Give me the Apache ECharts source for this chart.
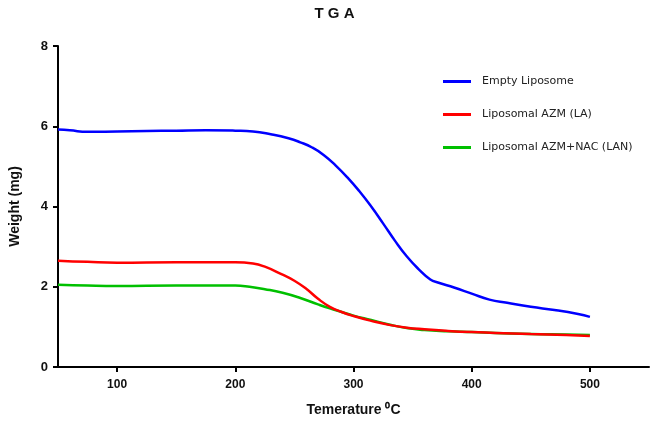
<!DOCTYPE html>
<html>
<head>
<meta charset="utf-8">
<script src="https://cdn.jsdelivr.net/npm/echarts@6/dist/echarts.min.js"></script>
<style>html,body{margin:0;padding:0;background:#fff}#c{width:669px;height:436px}</style>
</head>
<body>
<div id="c"></div>
<script>
const seriesNames = ['Empty Liposome', 'Liposomal AZM (LA)', 'Liposomal AZM+NAC (LAN)'];
const xTicks = [100, 200, 300, 400, 500];
const yTicks = [0, 2, 4, 6, 8];
const emptyLiposome = [[50,5.92],[60,5.9],[75,5.86],[100,5.87],[125,5.88],[150,5.89],[175,5.9],[200,5.89],[215,5.87],[230,5.8],[245,5.7],[255,5.6],[265,5.47],[275,5.28],[285,5.02],[295,4.72],[305,4.38],[315,4.0],[325,3.58],[335,3.15],[345,2.76],[355,2.44],[365,2.18],[372,2.1],[385,1.98],[400,1.83],[415,1.68],[430,1.6],[450,1.5],[470,1.42],[490,1.32],[500,1.25]];
const liposomalLA = [[50,2.65],[75,2.62],[100,2.6],[150,2.61],[200,2.61],[215,2.58],[225,2.5],[240,2.3],[250,2.15],[260,1.95],[270,1.7],[280,1.5],[290,1.37],[300,1.27],[315,1.15],[330,1.05],[345,0.98],[360,0.94],[380,0.9],[400,0.87],[420,0.85],[450,0.82],[480,0.8],[500,0.77]];
const liposomalLAN = [[50,2.05],[75,2.03],[100,2.02],[150,2.03],[200,2.03],[212,2.0],[225,1.94],[240,1.85],[255,1.72],[270,1.56],[280,1.46],[290,1.37],[300,1.28],[315,1.17],[330,1.06],[345,0.97],[360,0.92],[380,0.89],[400,0.87],[420,0.85],[450,0.82],[480,0.81],[500,0.8]];

const chart = echarts.init(document.getElementById('c'), null, {renderer:'canvas'});
const font = 'Liberation Sans, Arial, sans-serif';
function line(name, data, color, z) {
  return {name, type:'line', data, smooth:true, showSymbol:false, symbol:'none', z,
    lineStyle:{color, width:2.5}, itemStyle:{color}};
}
chart.setOption({
  animation:false,
  backgroundColor:'#fff',
  title:{text:'T G A', left:'center', top:1, textStyle:{fontFamily:font, fontSize:15, fontWeight:'bold', color:'#111'}},
  grid:{left:56, right:20, top:46, bottom:69},
  legend:{orient:'vertical', left:438, top:71, itemWidth:28, itemHeight:14, itemGap:22,
    data:seriesNames, icon:'path://M0,6 L28,6 L28,9 L0,9 Z',
    textStyle:{fontFamily:'DejaVu Sans, sans-serif', fontSize:11, color:'#222', padding:[0,0,0,6]}},
  xAxis:{type:'value', min:50, max:550, interval:50,
    name:'Temerature ⁰C', nameLocation:'middle', nameGap:36,
    nameTextStyle:{fontFamily:font, fontSize:14, fontWeight:'bold', color:'#111'},
    axisLine:{show:true, lineStyle:{color:'#000', width:2}},
    axisTick:{show:true, length:5, lineStyle:{color:'#000', width:2},
      customValues: xTicks},
    axisLabel:{fontFamily:font, fontSize:12, fontWeight:'bold', color:'#111', margin:12,
      customValues: xTicks},
    splitLine:{show:false}},
  yAxis:{type:'value', min:0, max:8, interval:2,
    name:'Weight (mg)', nameLocation:'middle', nameGap:36, nameRotate:90,
    nameTextStyle:{fontFamily:font, fontSize:14, fontWeight:'bold', color:'#111'},
    axisLine:{show:true, lineStyle:{color:'#000', width:2}},
    axisTick:{show:true, length:5, lineStyle:{color:'#000', width:2}, customValues: yTicks},
    axisLabel:{fontFamily:font, fontSize:13, fontWeight:'bold', color:'#111', margin:10, customValues: yTicks},
    splitLine:{show:false}},
  series:[
    line(seriesNames[2], liposomalLAN, '#00c000', 2),
    line(seriesNames[1], liposomalLA, '#ff0000', 3),
    line(seriesNames[0], emptyLiposome, '#0000ff', 4)
  ]
});
</script>
</body>
</html>
